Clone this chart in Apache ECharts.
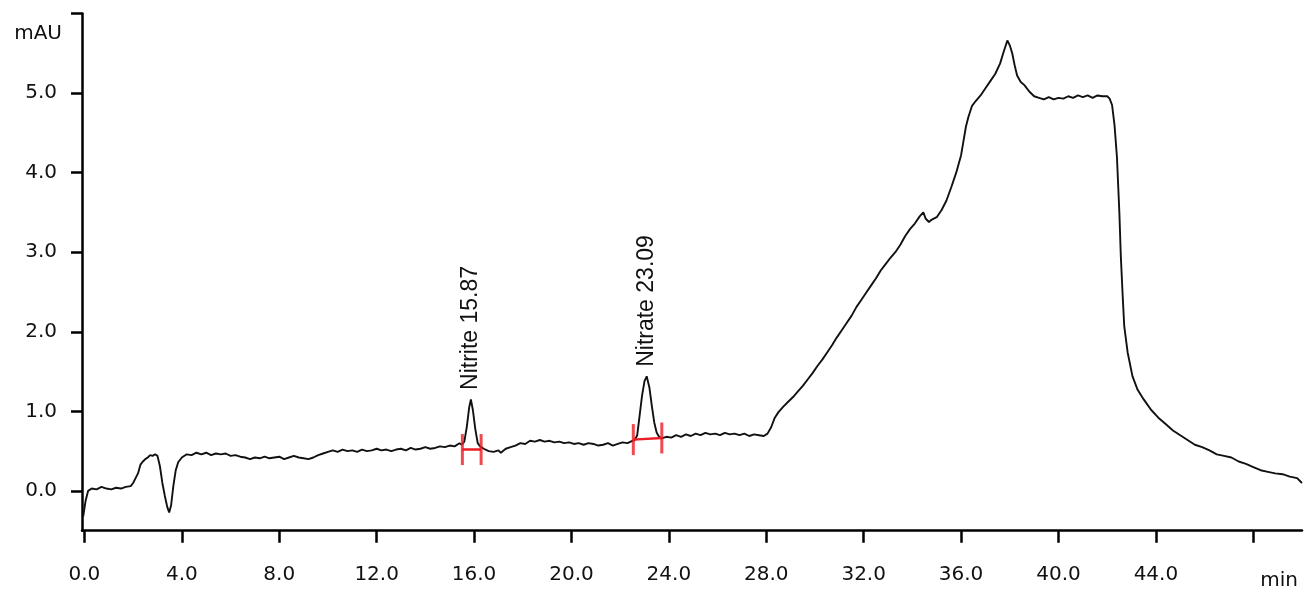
<!DOCTYPE html>
<html>
<head>
<meta charset="utf-8">
<script src="https://cdn.jsdelivr.net/npm/echarts@6/dist/echarts.min.js"></script>
<style>
html,body{margin:0;padding:0;background:#fff;}
#chart{width:1306px;height:592px;}
</style>
</head>
<body>
<div id="chart"></div>
<script>
// ---- data ----
const times = [
-0.05,0.05,0.15,0.3,0.5,0.7,0.9,1.1,1.3,1.5,1.7,1.9,2.0,2.1,2.2,2.3,2.4,2.5,2.6,2.7,2.8,2.9,3.0,3.1,3.2,3.3,3.4,3.48,3.56,3.65,3.75,3.85,4.0,4.2,4.4,4.6,4.8,5.0,5.2,5.4,5.6,5.8,6.0,6.2,6.4,6.6,6.8,7.0,7.2,7.4,7.6,7.8,8.0,8.2,8.4,8.6,8.8,9.0,9.2,9.4,9.6,9.8,10.0,10.2,10.4,10.6,10.8,11.0,11.2,11.4,11.6,11.8,12.0,12.2,12.4,12.6,12.8,13.0,13.2,13.4,13.6,13.8,14.0,14.2,14.4,14.6,14.8,15.0,15.2,15.4,15.5,15.6,15.7,15.8,15.87,15.95,16.05,16.15,16.25,16.4,16.6,16.8,17.0,17.1,17.3,17.5,17.7,17.9,18.1,18.3,18.5,18.7,18.9,19.1,19.3,19.5,19.7,19.9,20.1,20.3,20.5,20.7,20.9,21.1,21.3,21.5,21.7,21.9,22.1,22.3,22.5,22.6,22.7,22.8,22.9,23.0,23.09,23.2,23.3,23.4,23.5,23.6,23.7,23.9,24.1,24.3,24.5,24.7,24.9,25.1,25.3,25.5,25.7,25.9,26.1,26.3,26.5,26.7,26.9,27.1,27.3,27.5,27.7,27.9,28.05,28.2,28.35,28.5,28.7,28.9,29.1,29.3,29.5,29.7,29.9,30.1,30.3,30.5,30.7,30.9,31.1,31.3,31.5,31.7,31.9,32.1,32.3,32.5,32.7,32.9,33.1,33.3,33.5,33.7,33.9,34.1,34.3,34.45,34.55,34.68,34.8,35.0,35.2,35.4,35.6,35.8,36.0,36.1,36.2,36.3,36.45,36.6,36.8,37.0,37.2,37.4,37.6,37.75,37.9,38.0,38.1,38.2,38.3,38.45,38.6,38.8,39.0,39.2,39.4,39.6,39.8,40.0,40.2,40.4,40.6,40.8,41.0,41.2,41.4,41.6,41.8,42.0,42.1,42.2,42.3,42.4,42.5,42.56,42.63,42.7,42.84,43.04,43.25,43.5,43.8,44.1,44.4,44.7,45.0,45.3,45.6,45.9,46.2,46.5,46.8,47.1,47.4,47.7,48.0,48.3,48.6,48.9,49.2,49.5,49.8,50.0
];
const signal = [
-0.32,-0.12,0.00,0.03,0.02,0.05,0.03,0.02,0.04,0.03,0.05,0.06,0.10,0.16,0.22,0.33,0.37,0.40,0.42,0.45,0.44,0.46,0.44,0.31,0.10,-0.06,-0.20,-0.27,-0.18,0.06,0.26,0.36,0.42,0.46,0.45,0.48,0.46,0.48,0.45,0.47,0.46,0.47,0.44,0.45,0.43,0.42,0.40,0.42,0.41,0.43,0.41,0.42,0.43,0.40,0.42,0.44,0.42,0.41,0.40,0.42,0.45,0.47,0.49,0.51,0.49,0.52,0.50,0.51,0.49,0.52,0.50,0.51,0.53,0.51,0.52,0.50,0.52,0.53,0.51,0.54,0.52,0.53,0.55,0.53,0.54,0.56,0.55,0.57,0.56,0.60,0.58,0.62,0.80,1.05,1.15,1.02,0.78,0.60,0.56,0.53,0.50,0.49,0.51,0.48,0.53,0.55,0.57,0.60,0.59,0.63,0.62,0.64,0.62,0.63,0.61,0.62,0.60,0.61,0.59,0.60,0.58,0.60,0.59,0.57,0.58,0.60,0.57,0.59,0.61,0.60,0.63,0.64,0.70,0.95,1.20,1.38,1.44,1.30,1.07,0.86,0.73,0.68,0.66,0.68,0.67,0.70,0.68,0.71,0.69,0.72,0.70,0.73,0.71,0.72,0.70,0.73,0.71,0.72,0.70,0.72,0.69,0.71,0.70,0.69,0.72,0.80,0.92,0.99,1.06,1.12,1.18,1.25,1.32,1.40,1.48,1.57,1.65,1.74,1.83,1.93,2.02,2.11,2.20,2.31,2.40,2.49,2.58,2.67,2.77,2.85,2.93,3.00,3.09,3.20,3.29,3.36,3.45,3.50,3.42,3.38,3.41,3.44,3.53,3.65,3.82,4.00,4.22,4.40,4.58,4.70,4.84,4.90,4.97,5.06,5.15,5.24,5.37,5.52,5.66,5.60,5.50,5.35,5.22,5.14,5.10,5.02,4.96,4.94,4.92,4.95,4.92,4.94,4.93,4.96,4.94,4.97,4.95,4.97,4.94,4.97,4.96,4.96,4.93,4.85,4.60,4.20,3.50,2.95,2.49,2.07,1.74,1.44,1.27,1.15,1.02,0.92,0.84,0.76,0.70,0.64,0.58,0.55,0.51,0.46,0.44,0.42,0.37,0.34,0.30,0.26,0.24,0.22,0.21,0.18,0.16,0.10
];

const peakNames = ['Nitrite', 'Nitrate'];
const peakTimes = [15.87, 23.09];
const peakHeights = [1.15, 1.44];
const peakStarts = [15.52, 22.54];
const peakEnds = [16.29, 23.71];
const baseStartLevels = [0.52, 0.645];
const baseEndLevels = [0.52, 0.665];

const xTickValues = [0, 4, 8, 12, 16, 20, 24, 28, 32, 36, 40, 44, 48];
const xLabelValues = [0, 4, 8, 12, 16, 20, 24, 28, 32, 36, 40, 44];
const yTickValues = [0, 1, 2, 3, 4, 5, 6];
const yLabelValues = [0, 1, 2, 3, 4, 5];

// ---- build series ----
const trace = times.map((t, i) => [t, signal[i]]);
const labelPoints = peakTimes.map((t, i) => ({
  value: [t, peakHeights[i]],
  name: peakNames[i] + ' ' + t.toFixed(2)
}));
const RED = '#ec1c24';
const baselineSeries = peakStarts.map((s, i) => ({
  type: 'line',
  data: [[s, baseStartLevels[i]], [peakEnds[i], baseEndLevels[i]]],
  showSymbol: false,
  lineStyle: { color: RED, width: 2.4 },
  z: 4,
  silent: true
}));
const boundaryPoints = [];
peakStarts.forEach((s, i) => {
  boundaryPoints.push([s, baseStartLevels[i]]);
  boundaryPoints.push([peakEnds[i], baseEndLevels[i]]);
});

const FONT = 'DejaVu Sans';
const chart = echarts.init(document.getElementById('chart'), null, { renderer: 'canvas' });
chart.setOption({
  animation: false,
  backgroundColor: '#fff',
  grid: { left: 82, right: 4, top: 13.5, bottom: 61.3 },
  xAxis: {
    type: 'value',
    min: -0.1,
    max: 50,
    name: 'min',
    nameLocation: 'end',
    nameGap: 0,
    nameTextStyle: { fontFamily: FONT, fontSize: 20, color: '#111', align: 'right', verticalAlign: 'top', padding: [40, 4, 0, 0] },
    axisLine: { onZero: false, lineStyle: { color: '#000', width: 2.5 } },
    axisTick: { show: true, length: 12, customValues: xTickValues, lineStyle: { color: '#000', width: 2.5 } },
    axisLabel: { customValues: xLabelValues, margin: 34, fontFamily: FONT, fontSize: 20, color: '#111',
      formatter: v => v.toFixed(1) },
    splitLine: { show: false }
  },
  yAxis: {
    type: 'value',
    min: -0.5,
    max: 6,
    name: 'mAU',
    nameLocation: 'end',
    nameGap: -20,
    nameTextStyle: { fontFamily: FONT, fontSize: 20, color: '#111', align: 'right', verticalAlign: 'middle', padding: [0, 20, 0, 0] },
    axisLine: { onZero: false, lineStyle: { color: '#000', width: 2.5 } },
    axisTick: { show: true, length: 11, customValues: yTickValues, lineStyle: { color: '#000', width: 2.5 } },
    axisLabel: { customValues: yLabelValues, margin: 25, fontFamily: FONT, fontSize: 20, color: '#111',
      formatter: v => v.toFixed(1) },
    splitLine: { show: false }
  },
  series: [
    {
      type: 'line',
      data: trace,
      showSymbol: false,
      smooth: false,
      sampling: null,
      lineStyle: { color: '#111', width: 1.9 },
      z: 3,
      silent: true
    },
    ...baselineSeries,
    {
      type: 'scatter',
      data: boundaryPoints,
      symbol: 'rect',
      symbolSize: [3, 31],
      itemStyle: { color: RED },
      z: 5,
      silent: true
    },
    {
      type: 'scatter',
      data: labelPoints,
      symbolSize: 1,
      itemStyle: { color: 'rgba(0,0,0,0)' },
      label: {
        show: true,
        position: 'top',
        distance: 9,
        rotate: 90,
        align: 'left',
        verticalAlign: 'middle',
        formatter: p => p.name,
        fontFamily: 'Liberation Sans',
        fontSize: 23,
        color: '#111',
        opacity: 1
      },
      labelLayout: { hideOverlap: false },
      z: 6,
      silent: true
    }
  ]
});
</script>
</body>
</html>
